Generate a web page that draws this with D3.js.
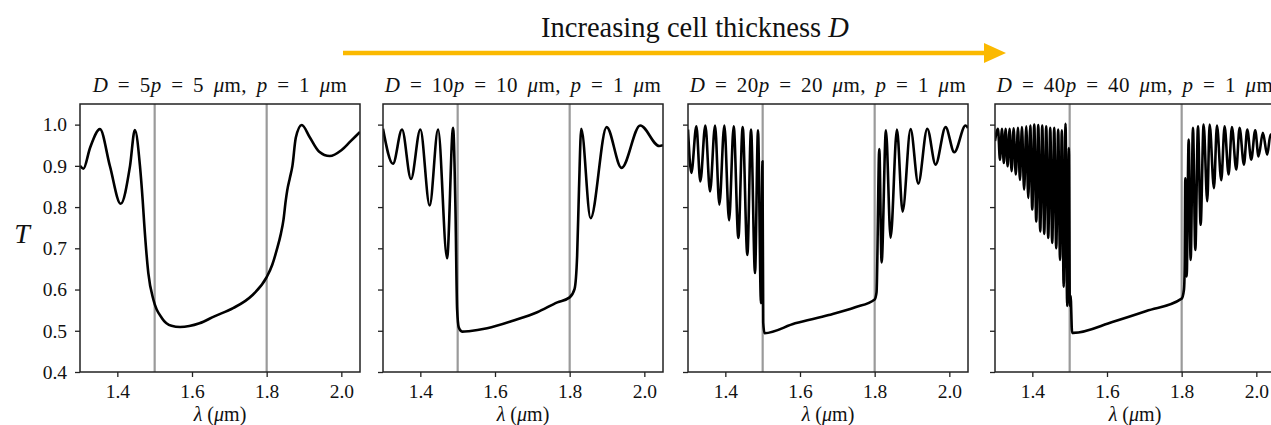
<!DOCTYPE html>
<html>
<head>
<meta charset="utf-8">
<script src="https://cdn.jsdelivr.net/npm/d3@7"></script>
<style>
  html, body { margin: 0; padding: 0; background: #fff; }
  svg { display: block; }
  svg text { white-space: pre; font-family: "Liberation Serif", "Times New Roman", serif; }
</style>
</head>
<body>
<div id="chart"></div>
<script>
// values: [wavelength (um), transmission]
var cellMultiples = [5, 10, 20, 40];   // D = n p
var pitchValue = 1;
var lambdaTicks = [1.4, 1.6, 1.8, 2.0];
var tTicks = [0.4, 0.5, 0.6, 0.7, 0.8, 0.9, 1.0];
var bandEdges = [1.5, 1.8];

var t5 = [[1.300,0.900],[1.309,0.893],[1.327,0.944],[1.3535,0.989],[1.380,0.900],[1.409,0.808],[1.434,0.900],
  [1.447,0.987],[1.4606,0.900],[1.468,0.815],[1.472,0.760],[1.483,0.640],[1.497,0.574],[1.520,0.530],
  [1.545,0.512],[1.568,0.509],[1.620,0.518],[1.660,0.535],[1.710,0.555],[1.760,0.585],[1.800,0.630],
  [1.815,0.660],[1.827,0.696],[1.838,0.735],[1.845,0.769],[1.851,0.815],[1.855,0.840],[1.862,0.870],
  [1.869,0.900],[1.878,0.968],[1.894,0.999],[1.915,0.970],[1.940,0.935],[1.969,0.924],[2.000,0.938],
  [2.025,0.960],[2.050,0.982]];

var t10 = [[1.300,0.990],[1.3267,0.905],[1.3509,0.988],[1.375,0.868],[1.400,0.988],[1.425,0.804],
  [1.4475,0.988],[1.4716,0.676],[1.4877,0.992],[1.494,0.800],[1.4985,0.553],[1.503,0.508],[1.512,0.498],
  [1.530,0.499],[1.579,0.506],[1.650,0.525],[1.713,0.545],[1.767,0.569],[1.800,0.581],[1.813,0.601],
  [1.820,0.682],[1.825,0.844],[1.831,0.990],[1.856,0.773],[1.899,0.994],[1.939,0.895],[1.989,0.998],
  [2.040,0.948],[2.050,0.950]];

var t20 = [[1.300,0.988],[1.309,0.883],[1.3224,0.996],[1.333,0.862],[1.3465,0.998],[1.359,0.838],
  [1.3724,0.998],[1.384,0.806],[1.3974,0.998],[1.410,0.768],[1.4224,0.996],[1.4349,0.725],[1.4465,0.994],
  [1.459,0.684],[1.4688,0.988],[1.4795,0.640],[1.4875,0.986],[1.4955,0.567],[1.4995,0.911],[1.5015,0.520],
  [1.505,0.494],[1.587,0.518],[1.677,0.538],[1.748,0.557],[1.800,0.576],[1.805,0.593],[1.8124,0.941],
  [1.8186,0.666],[1.8302,0.986],[1.8427,0.726],[1.8597,0.988],[1.8748,0.789],[1.8962,0.989],[1.9168,0.857],
  [1.9409,0.990],[1.9632,0.903],[1.990,0.994],[2.0132,0.933],[2.0435,0.998],[2.050,0.992]];

var t40 = [[1.300,0.960],[1.3080,0.990],[1.3133,0.915],[1.3187,0.990],[1.3236,0.907],[1.3285,0.990],
  [1.3338,0.899],[1.3392,0.990],[1.3445,0.887],[1.3499,0.991],[1.3557,0.879],[1.3615,0.992],[1.3668,0.866],
  [1.3722,0.994],[1.3780,0.842],[1.3838,0.996],[1.3891,0.822],[1.3945,0.998],[1.3998,0.794],[1.4052,1.000],
  [1.4105,0.765],[1.4159,0.999],[1.4212,0.741],[1.4266,0.998],[1.4319,0.735],[1.4372,0.996],[1.4426,0.725],
  [1.4480,0.992],[1.4533,0.713],[1.4587,0.992],[1.4640,0.700],[1.4693,0.988],[1.4742,0.672],[1.4791,0.986],
  [1.4840,0.607],[1.4889,1.002],[1.4934,0.560],[1.4979,0.943],[1.5005,0.560],[1.5025,0.585],[1.5065,0.495],
  [1.5094,0.495],[1.6164,0.522],[1.7055,0.548],[1.800,0.578],[1.8062,0.600],[1.8080,0.650],[1.8098,0.870],
  [1.8134,0.632],[1.8187,0.964],[1.8241,0.672],[1.8303,0.992],[1.8366,0.696],[1.8437,0.996],[1.8508,0.757],
  [1.8588,1.000],[1.8686,0.814],[1.8749,1.000],[1.8865,0.846],[1.8945,0.998],[1.9061,0.865],[1.9150,0.996],
  [1.9257,0.879],[1.9346,0.994],[1.9462,0.891],[1.9551,0.992],[1.9668,0.903],[1.9757,0.988],[1.9863,0.915],
  [1.9970,0.986],[2.0059,0.923],[2.0175,0.980],[2.0291,0.927],[2.0380,0.976],[2.050,0.940]];

var series = [t5, t10, t20, t40];

// layout
var W = 1271, H = 425;
var panelLeft = [80, 383, 688, 995], panelW = 280;
var plotTop = 104, plotBottom = 372;
var serif = "Liberation Serif";

var svg = d3.select("#chart").append("svg")
    .attr("width", W)
    .attr("height", H);

var defs = svg.append("defs");

series.forEach(function(data, i) {
    var left = panelLeft[i];
    var x = d3.scaleLinear().domain([1.3, 2.05]).range([left, left + panelW]);
    var y = d3.scaleLinear().domain([0.4, 1.05]).range([plotBottom, plotTop]);

    var g = svg.append("g");

    defs.append("clipPath").attr("id", "clip" + i)
        .append("rect")
        .attr("x", x(1.3)).attr("y", y(1.05))
        .attr("width", x(2.05) - x(1.3)).attr("height", y(0.4) - y(1.05));

    // band edge markers
    g.selectAll(".edge")
        .data(bandEdges)
        .enter().append("line")
        .attr("x1", function(d) { return x(d); })
        .attr("x2", function(d) { return x(d); })
        .attr("y1", y(0.4))
        .attr("y2", y(1.05))
        .attr("stroke", "#9a9a9a")
        .attr("stroke-width", 2.2);

    var line = d3.line()
        .x(function(d) { return x(d[0]); })
        .y(function(d) { return y(d[1]); })
        .curve(d3.curveMonotoneX);

    g.append("path")
        .datum(data)
        .attr("clip-path", "url(#clip" + i + ")")
        .attr("fill", "none")
        .attr("stroke", "#000")
        .attr("stroke-width", 2.6)
        .attr("stroke-linejoin", "round")
        .attr("d", line);

    // axes
    var xAxis = g.append("g")
        .attr("transform", "translate(0," + plotBottom + ")")
        .call(d3.axisBottom(x).tickValues(lambdaTicks).tickFormat(d3.format(".1f")).tickSize(5).tickPadding(7));

    var yAxis = g.append("g")
        .attr("transform", "translate(" + left + ",0)")
        .call(d3.axisLeft(y).tickValues(tTicks)
            .tickFormat(i === 0 ? d3.format(".1f") : function() { return ""; })
            .tickSize(5).tickPadding(8));

    [xAxis, yAxis].forEach(function(a) {
        a.attr("font-family", serif).attr("font-size", 19.5);
        a.select(".domain").remove();
        a.selectAll("line").attr("stroke", "#222").attr("stroke-width", 1.3);
        a.selectAll("text").attr("fill", "#111").style("font-family", serif);
    });

    // frame
    g.append("rect")
        .attr("x", x(1.3)).attr("y", y(1.05))
        .attr("width", x(2.05) - x(1.3)).attr("height", y(0.4) - y(1.05))
        .attr("fill", "none")
        .attr("stroke", "#222")
        .attr("stroke-width", 1.5);

    // panel title: D = np = n um, p = 1 um
    var n = cellMultiples[i];
    var parts = [["D", true], [" = " + n, false], ["p", true], [" = " + n * pitchValue + " ", false],
                 ["\u03bc", true], ["m, ", false], ["p", true], [" = " + pitchValue + " ", false],
                 ["\u03bc", true], ["m", false]];
    var title = g.append("text")
        .attr("x", left + panelW / 2)
        .attr("y", 92)
        .attr("text-anchor", "middle")
        .attr("font-size", 21)
        .attr("word-spacing", 4)
        .attr("letter-spacing", 0.4)
        .attr("fill", "#111");
    parts.forEach(function(p) {
        title.append("tspan").attr("font-style", p[1] ? "italic" : "normal").text(p[0]);
    });

    // x label
    var xl = g.append("text")
        .attr("x", left + panelW / 2)
        .attr("y", 421)
        .attr("text-anchor", "middle")
        .attr("font-size", 20)
        .attr("fill", "#111");
    xl.append("tspan").attr("font-style", "italic").text("\u03bb");
    xl.append("tspan").text(" (");
    xl.append("tspan").attr("font-style", "italic").text("\u03bc");
    xl.append("tspan").text("m)");
});

// y label
svg.append("text")
    .attr("x", 22)
    .attr("y", 243)
    .attr("text-anchor", "middle")
    .attr("font-style", "italic")
    .attr("font-size", 28)
    .attr("fill", "#111")
    .text("T");

// top annotation
var header = svg.append("text")
    .attr("x", 695)
    .attr("y", 37)
    .attr("text-anchor", "middle")
    .attr("font-size", 28.5)
    .attr("fill", "#111");
header.append("tspan").text("Increasing cell thickness ");
header.append("tspan").attr("font-style", "italic").text("D");

var arrowY = 53, arrowX0 = 343, arrowX1 = 1006;
svg.append("line")
    .attr("x1", arrowX0).attr("x2", arrowX1 - 16)
    .attr("y1", arrowY).attr("y2", arrowY)
    .attr("stroke", "#fbb900")
    .attr("stroke-width", 4.5);
svg.append("path")
    .attr("d", "M" + (arrowX1 - 22) + "," + (arrowY - 10) + "L" + arrowX1 + "," + arrowY + "L" + (arrowX1 - 22) + "," + (arrowY + 10) + "Z")
    .attr("fill", "#fbb900");
</script>
</body>
</html>
